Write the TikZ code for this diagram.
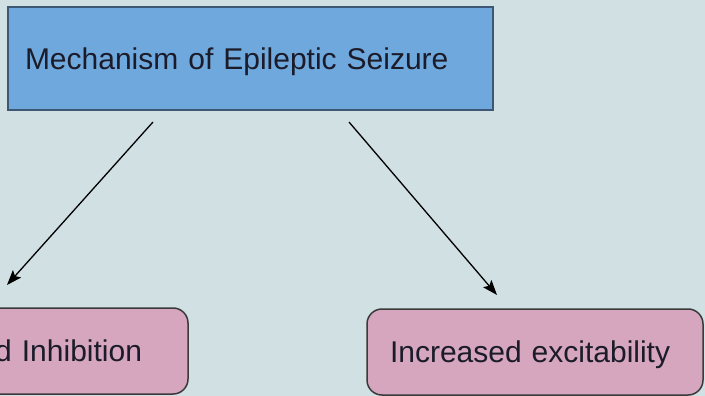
\documentclass[tikz,border=0pt]{standalone}
\usepackage{fontspec}
\setmainfont{Liberation Sans}
\usetikzlibrary{arrows.meta}
\definecolor{bgcyan}{HTML}{D0E0E3}
\definecolor{headblue}{HTML}{6FA8DC}
\definecolor{headline}{HTML}{3D5775}
\definecolor{causepink}{HTML}{D5A6BD}
\definecolor{causeline}{HTML}{3A3A3A}
\definecolor{inktext}{HTML}{1B1B2A}
\begin{document}
\begin{tikzpicture}[x=1pt, y=-1pt, font=\fontsize{30pt}{36pt}\selectfont, text=inktext,
    head/.style={rectangle, fill=headblue, draw=headline, line width=1.5pt, minimum height=103pt, inner xsep=17pt, text width=451pt, align=left, text height=21.5pt, text depth=0pt},
    cause/.style={rectangle, rounded corners=15pt, fill=causepink, draw=causeline, line width=1.5pt, minimum height=86pt, text height=21.5pt, text depth=0pt},
    arr/.style={line width=1.3pt, draw=black, -{Stealth[length=15pt, width=11pt, inset=3pt]}}]
    \useasboundingbox[fill=bgcyan] (0,0) rectangle (705,396);
    \node[head] (seizure) at (250.5,58.5) {Mechanism of Epileptic Seizure};
    \node[cause, inner xsep=46pt, text width=244pt, align=right] (inhib) at (20,351) {d Inhibition};
    \node[cause, inner xsep=23pt, text width=290pt, align=left] (excit) at (535,352) {Increased excitability};

    \coordinate (inhib-in) at (7,285);
    \coordinate (excit-in) at (497,295);
    \coordinate (seizure-l) at (153,122);
    \coordinate (seizure-r) at (349,122);
    \draw[arr] (seizure-l) -- (inhib-in);
    \draw[arr] (seizure-r) -- (excit-in);
  \end{tikzpicture}
\end{document}
